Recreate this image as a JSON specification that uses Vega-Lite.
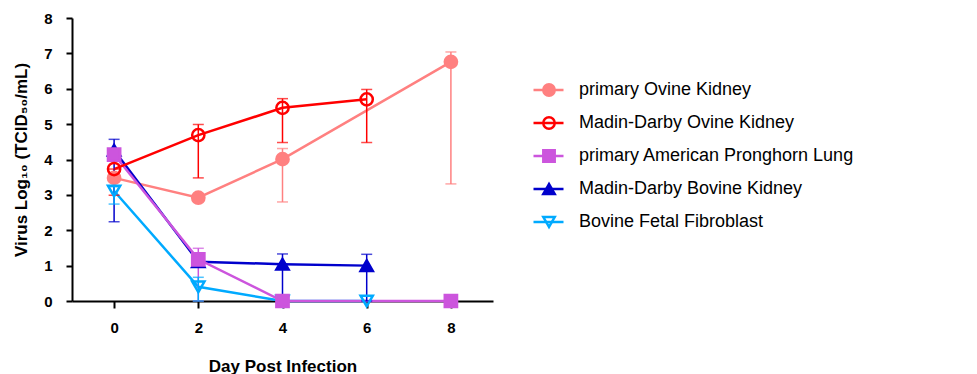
{
  "$schema": "https://vega.github.io/schema/vega-lite/v6.json",
  "width": 421,
  "height": 283,
  "autosize": {"type": "none"},
  "padding": {"left": 72, "top": 18, "right": 484, "bottom": 73},
  "background": "white",
  "config": {
    "view": {"stroke": null},
    "font": "Liberation Sans",
    "axis": {
      "grid": false,
      "domainColor": "black",
      "domainWidth": 2,
      "tickColor": "black",
      "tickWidth": 2,
      "labelFont": "Liberation Sans",
      "labelFontWeight": "bold",
      "labelFontSize": 15,
      "labelColor": "black",
      "titleFont": "Liberation Sans",
      "titleFontWeight": "bold",
      "titleFontSize": 17,
      "titleColor": "black"
    },
    "legend": {
      "labelFont": "Liberation Sans",
      "labelFontSize": 18,
      "labelColor": "black",
      "labelLimit": 600
    }
  },
  "datasets": {
    "pts": [
      {"series": "primary Ovine Kidney", "day": 0, "value": 3.48},
      {"series": "primary Ovine Kidney", "day": 2, "value": 2.92},
      {"series": "primary Ovine Kidney", "day": 4, "value": 4.01},
      {"series": "primary Ovine Kidney", "day": 8, "value": 6.76},
      {"series": "Bovine Fetal Fibroblast", "day": 0, "value": 3.11},
      {"series": "Bovine Fetal Fibroblast", "day": 2, "value": 0.40},
      {"series": "Bovine Fetal Fibroblast", "day": 4, "value": 0},
      {"series": "Bovine Fetal Fibroblast", "day": 6, "value": 0},
      {"series": "Madin-Darby Bovine Kidney", "day": 0, "value": 4.26},
      {"series": "Madin-Darby Bovine Kidney", "day": 2, "value": 1.11},
      {"series": "Madin-Darby Bovine Kidney", "day": 4, "value": 1.04},
      {"series": "Madin-Darby Bovine Kidney", "day": 6, "value": 1.00},
      {"series": "primary American Pronghorn Lung", "day": 0, "value": 4.14},
      {"series": "primary American Pronghorn Lung", "day": 2, "value": 1.18},
      {"series": "primary American Pronghorn Lung", "day": 4, "value": 0},
      {"series": "primary American Pronghorn Lung", "day": 8, "value": 0},
      {"series": "Madin-Darby Ovine Kidney", "day": 0, "value": 3.73},
      {"series": "Madin-Darby Ovine Kidney", "day": 2, "value": 4.69},
      {"series": "Madin-Darby Ovine Kidney", "day": 4, "value": 5.46},
      {"series": "Madin-Darby Ovine Kidney", "day": 6, "value": 5.70}
    ],
    "errs": [
      {"series": "primary Ovine Kidney", "day": 4, "lo": 2.80, "hi": 4.31},
      {"series": "primary Ovine Kidney", "day": 8, "lo": 3.31, "hi": 7.04},
      {"series": "Madin-Darby Ovine Kidney", "day": 0, "lo": 2.99, "hi": 3.73},
      {"series": "Madin-Darby Ovine Kidney", "day": 2, "lo": 3.48, "hi": 4.99},
      {"series": "Madin-Darby Ovine Kidney", "day": 4, "lo": 4.48, "hi": 5.72},
      {"series": "Madin-Darby Ovine Kidney", "day": 6, "lo": 4.48, "hi": 5.98},
      {"series": "primary American Pronghorn Lung", "day": 2, "lo": 0, "hi": 1.49},
      {"series": "Madin-Darby Bovine Kidney", "day": 0, "lo": 2.24, "hi": 4.57},
      {"series": "Madin-Darby Bovine Kidney", "day": 4, "lo": 0, "hi": 1.33},
      {"series": "Madin-Darby Bovine Kidney", "day": 6, "lo": 0, "hi": 1.32},
      {"series": "Bovine Fetal Fibroblast", "day": 0, "lo": 2.74, "hi": 3.23},
      {"series": "Bovine Fetal Fibroblast", "day": 2, "lo": 0, "hi": 0.67}
    ]
  },
  "encoding": {
    "x": {
      "field": "day",
      "type": "quantitative",
      "scale": {"domain": [-1, 9], "nice": false, "zero": false},
      "axis": {
        "values": [0, 2, 4, 6, 8],
        "tickSize": 7,
        "labelPadding": 12,
        "title": "Day Post Infection",
        "titlePadding": 23
      }
    }
  },
  "resolve": {
    "legend": {"color": "independent", "stroke": "independent", "fill": "independent", "shape": "independent"}
  },
  "layer": [
    {
      "data": {"name": "pts"},
      "mark": {"type": "line", "strokeWidth": 2.5},
      "encoding": {
        "y": {
          "field": "value",
          "type": "quantitative",
          "scale": {"domain": [0, 8], "nice": false},
          "axis": {
            "values": [0, 1, 2, 3, 4, 5, 6, 7, 8],
            "tickSize": 6,
            "labelPadding": 14,
            "labelOverlap": false,
            "title": "Virus Log₁₀ (TCID₅₀/mL)",
            "titlePadding": 13
          }
        },
        "color": {
          "field": "series",
          "type": "nominal",
          "scale": {
            "domain": ["primary Ovine Kidney", "Madin-Darby Ovine Kidney", "primary American Pronghorn Lung", "Madin-Darby Bovine Kidney", "Bovine Fetal Fibroblast"],
            "range": ["#FF8080", "#FF0000", "#CC55DD", "#0000CC", "#00AAFF"]
          },
          "legend": {
            "title": null,
            "orient": "none",
            "legendX": 460,
            "legendY": 62,
            "symbolType": "stroke",
            "symbolSize": 900,
            "symbolStrokeWidth": 2.5,
            "clipHeight": 20,
            "rowPadding": 13,
            "labelOffset": 14
          }
        }
      }
    },
    {
      "data": {"name": "errs"},
      "mark": {"type": "rule", "strokeWidth": 1.5},
      "encoding": {
        "y": {
          "field": "lo",
          "type": "quantitative",
          "axis": {
            "values": [0, 1, 2, 3, 4, 5, 6, 7, 8],
            "tickSize": 6,
            "labelPadding": 14,
            "labelOverlap": false,
            "title": "Virus Log₁₀ (TCID₅₀/mL)",
            "titlePadding": 13
          }
        },
        "y2": {"field": "hi"},
        "color": {"field": "series", "type": "nominal", "legend": null}
      }
    },
    {
      "data": {"name": "errs"},
      "mark": {"type": "tick", "orient": "horizontal", "size": 11, "thickness": 1.5},
      "encoding": {
        "y": {
          "field": "lo",
          "type": "quantitative",
          "axis": {
            "values": [0, 1, 2, 3, 4, 5, 6, 7, 8],
            "tickSize": 6,
            "labelPadding": 14,
            "labelOverlap": false,
            "title": "Virus Log₁₀ (TCID₅₀/mL)",
            "titlePadding": 13
          }
        },
        "color": {"field": "series", "type": "nominal", "legend": null}
      }
    },
    {
      "data": {"name": "errs"},
      "mark": {"type": "tick", "orient": "horizontal", "size": 11, "thickness": 1.5},
      "encoding": {
        "y": {
          "field": "hi",
          "type": "quantitative",
          "axis": {
            "values": [0, 1, 2, 3, 4, 5, 6, 7, 8],
            "tickSize": 6,
            "labelPadding": 14,
            "labelOverlap": false,
            "title": "Virus Log₁₀ (TCID₅₀/mL)",
            "titlePadding": 13
          }
        },
        "color": {"field": "series", "type": "nominal", "legend": null}
      }
    },
    {
      "data": {"name": "pts"},
      "mark": {"type": "point", "size": 150, "strokeWidth": 2.5, "opacity": 1, "fillOpacity": 1},
      "encoding": {
        "y": {
          "field": "value",
          "type": "quantitative",
          "axis": {
            "values": [0, 1, 2, 3, 4, 5, 6, 7, 8],
            "tickSize": 6,
            "labelPadding": 14,
            "labelOverlap": false,
            "title": "Virus Log₁₀ (TCID₅₀/mL)",
            "titlePadding": 13
          }
        },
        "stroke": {
          "field": "series",
          "type": "nominal",
          "scale": {
            "domain": ["primary Ovine Kidney", "Madin-Darby Ovine Kidney", "primary American Pronghorn Lung", "Madin-Darby Bovine Kidney", "Bovine Fetal Fibroblast"],
            "range": ["#FF8080", "#FF0000", "#CC55DD", "#0000CC", "#00AAFF"]
          },
          "legend": {
            "title": null,
            "orient": "none",
            "legendX": 468,
            "legendY": 62,
            "symbolSize": 130,
            "symbolStrokeWidth": 2.5,
            "clipHeight": 20,
            "rowPadding": 13,
            "labelExpr": "''"
          }
        },
        "fill": {
          "field": "series",
          "type": "nominal",
          "scale": {
            "domain": ["primary Ovine Kidney", "Madin-Darby Ovine Kidney", "primary American Pronghorn Lung", "Madin-Darby Bovine Kidney", "Bovine Fetal Fibroblast"],
            "range": ["#FF8080", "transparent", "#CC55DD", "#0000CC", "transparent"]
          },
          "legend": {
            "title": null,
            "orient": "none",
            "legendX": 468,
            "legendY": 62,
            "symbolSize": 130,
            "symbolStrokeWidth": 2.5,
            "clipHeight": 20,
            "rowPadding": 13,
            "labelExpr": "''"
          }
        },
        "shape": {
          "field": "series",
          "type": "nominal",
          "scale": {
            "domain": ["primary Ovine Kidney", "Madin-Darby Ovine Kidney", "primary American Pronghorn Lung", "Madin-Darby Bovine Kidney", "Bovine Fetal Fibroblast"],
            "range": ["circle", "circle", "square", "triangle-up", "triangle-down"]
          },
          "legend": {
            "title": null,
            "orient": "none",
            "legendX": 468,
            "legendY": 62,
            "symbolSize": 130,
            "symbolStrokeWidth": 2.5,
            "clipHeight": 20,
            "rowPadding": 13,
            "labelExpr": "''"
          }
        }
      }
    }
  ]
}
